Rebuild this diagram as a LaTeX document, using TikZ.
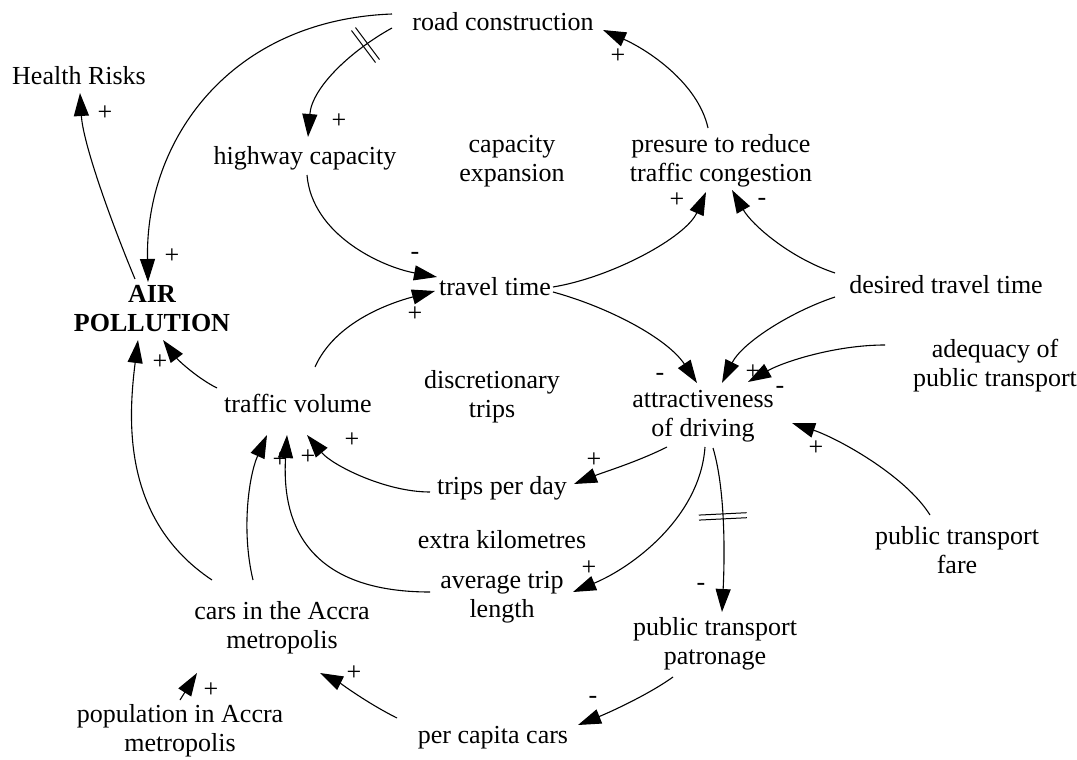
\documentclass[tikz,border=0pt]{standalone}
\usepackage{fontspec}
\setmainfont{Liberation Serif}
\usetikzlibrary{arrows.meta,decorations.markings}

\begin{document}
\begin{tikzpicture}[x=1pt,y=-1pt,
  var/.style={inner sep=0pt,align=center,font=\fontsize{26}{29}\selectfont},
  polarity/.style={inner sep=0pt,font=\fontsize{26}{26}\selectfont},
  link/.style={line width=1.1pt,-{Triangle[length=23pt,width=15pt]}},
  delaymark/.style 2 args={postaction={decorate,decoration={markings,
      mark=at position #1 with {\draw[line width=1pt,-] (-2.5pt,-#2)--(-2.5pt,#2) (2.5pt,-#2)--(2.5pt,#2);}}}}
]
\fill[white] (0,0) rectangle (1077,760);
\useasboundingbox (0,0) rectangle (1077,760);

% variables
\node[var] (road) at (503,22) {road construction};
\node[var] (health) at (79,76) {Health Risks};
\node[var] (highway) at (305,158) {highway capacity};
\node[var] (capexp) at (512,161) {capacity\\expansion};
\node[var] (pressure) at (721,161) {presure to reduce\\traffic congestion};
\node[var,font=\fontsize{26}{29}\selectfont\bfseries] (air) at (152,309) {AIR\\POLLUTION};
\node[var] (travel) at (495,287) {travel time};
\node[var] (desired) at (946,285) {desired travel time};
\node[var] (adequacy) at (995,366) {adequacy of\\public transport};
\node[var] (volume) at (298,403) {traffic volume};
\node[var] (discr) at (492,397) {discretionary\\trips};
\node[var] (attract) at (703,416) {attractiveness\\of driving};
\node[var] (tripsday) at (502,488) {trips per day};
\node[var] (extra) at (502,540) {extra kilometres};
\node[var] (avgtrip) at (502,597) {average trip\\length};
\node[var] (fare) at (957,550) {public transport\\fare};
\node[var] (cars) at (282,628) {cars in the Accra\\metropolis};
\node[var] (patron) at (715,644) {public transport\\patronage};
\node[var] (pop) at (180,731) {population in Accra\\metropolis};
\node[var] (percap) at (493,738) {per capita cars};

% causal links
\draw[link] ([shift={(-111,-8)}]road.center) .. controls +(-162,6) and +(-3,-142) .. ([shift={(-4,-27)}]air.center);
\draw[link,delaymark={0.22}{20pt}] ([shift={(-111,6)}]road.center) .. controls +(-40,22) and +(4,-50) .. ([shift={(3,-21)}]highway.center);
\draw[link] ([shift={(-17,-30)}]air.center) .. controls +(-25,-60) and +(3,50) .. ([shift={(1,17)}]health.center);
\draw[link] ([shift={(2,17)}]highway.center) .. controls +(5,60) and +(-55,-10) .. ([shift={(-58,-10)}]travel.center);
\draw[link] ([shift={(17,-36)}]volume.center) .. controls +(20,-45) and +(-45,12) .. ([shift={(-60,4)}]travel.center);
\draw[link] ([shift={(58,0)}]travel.center) .. controls +(60,-10) and +(-20,45) .. ([shift={(-15,31)}]pressure.center);
\draw[link] ([shift={(-111,-12)}]desired.center) .. controls +(-45,-15) and +(20,35) .. ([shift={(11,29)}]pressure.center);
\draw[link] ([shift={(-13,-33)}]pressure.center) .. controls +(-10,-45) and +(45,20) .. ([shift={(100,8)}]road.center);
\draw[link] ([shift={(58,5)}]travel.center) .. controls +(55,15) and +(-30,-45) .. ([shift={(-6,-33)}]attract.center);
\draw[link] ([shift={(-111,12)}]desired.center) .. controls +(-45,15) and +(20,-40) .. ([shift={(19,-33)}]attract.center);
\draw[link] ([shift={(-110,-21)}]adequacy.center) .. controls +(-50,0) and +(35,-20) .. ([shift={(45,-34)}]attract.center);
\draw[link] ([shift={(-27,-35)}]fare.center) .. controls +(-25,-40) and +(45,15) .. ([shift={(89,7)}]attract.center);
\draw[link] ([shift={(-36,31)}]attract.center) .. controls +(-30,15) and +(30,-12) .. ([shift={(72,-4)}]tripsday.center);
\draw[link] ([shift={(2,31)}]attract.center) .. controls +(-5,70) and +(60,-25) .. ([shift={(71,-5)}]avgtrip.center);
\draw[link,delaymark={0.42}{24pt}] ([shift={(10,32)}]attract.center) .. controls +(12,40) and +(3,-60) .. ([shift={(7,-32)}]patron.center);
\draw[link] ([shift={(-42,33)}]patron.center) .. controls +(-25,18) and +(30,-12) .. ([shift={(85,-13)}]percap.center);
\draw[link] ([shift={(-72,4)}]tripsday.center) .. controls +(-45,0) and +(25,30) .. ([shift={(9,32)}]volume.center);
\draw[link] ([shift={(-72,-5)}]avgtrip.center) .. controls +(-130,0) and +(-5,80) .. ([shift={(-11,32)}]volume.center);
\draw[link] ([shift={(-29,-48)}]cars.center) .. controls +(-12,-50) and +(-18,40) .. ([shift={(-31,32)}]volume.center);
\draw[link] ([shift={(-70,-48)}]cars.center) .. controls +(-90,-60) and +(-10,80) .. ([shift={(-14,31)}]air.center);
\draw[link] ([shift={(-81,-15)}]volume.center) .. controls +(-20,-10) and +(15,20) .. ([shift={(11,31)}]air.center);
\draw[link] ([shift={(0,-31)}]pop.center) -- ([shift={(-85,45)}]cars.center);
\draw[link] ([shift={(-96,-20)}]percap.center) .. controls +(-30,-15) and +(20,10) .. ([shift={(38,45)}]cars.center);

% link polarities
\node[polarity] (s1) at (172,256) {+};
\node[polarity] (s2) at (339,121) {+};
\node[polarity] (s3) at (105,113) {+};
\node[polarity] (s4) at (415,256) {-};
\node[polarity] (s5) at (415,314) {+};
\node[polarity] (s6) at (677,200) {+};
\node[polarity] (s7) at (762,202) {-};
\node[polarity] (s8) at (618,56) {+};
\node[polarity] (s9) at (660,377) {-};
\node[polarity] (s10) at (753,372) {+};
\node[polarity] (s11) at (780,390) {-};
\node[polarity] (s12) at (816,448) {+};
\node[polarity] (s13) at (594,460) {+};
\node[polarity] (s14) at (589,568) {+};
\node[polarity] (s15) at (701,587) {-};
\node[polarity] (s16) at (593,700) {-};
\node[polarity] (s17) at (352,440) {+};
\node[polarity] (s18) at (308,457) {+};
\node[polarity] (s19) at (280,460) {+};
\node[polarity] (s20) at (160,362) {+};
\node[polarity] (s21) at (211,690) {+};
\node[polarity] (s22) at (354,673) {+};
\end{tikzpicture}
\end{document}
